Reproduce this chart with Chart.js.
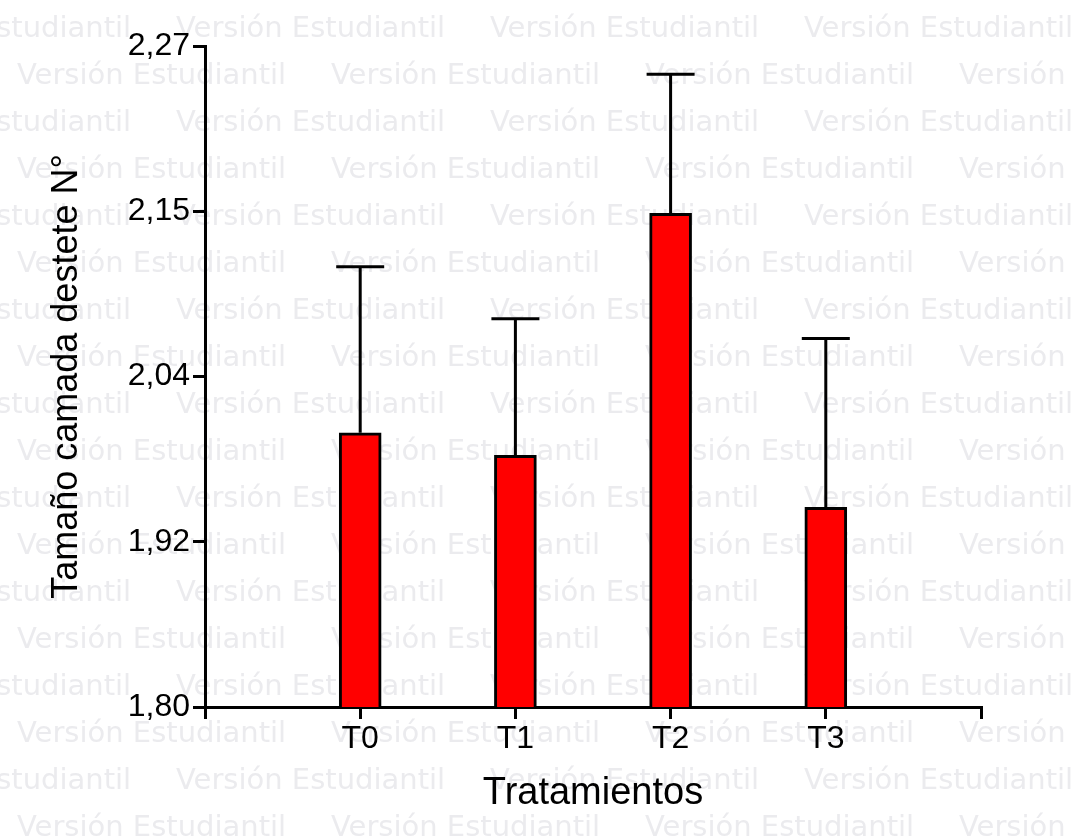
<!DOCTYPE html>
<html>
<head>
<meta charset="utf-8">
<title>Tamaño camada destete</title>
<script src="https://cdn.jsdelivr.net/npm/chart.js@4.4.1/dist/chart.umd.min.js"></script>
<style>
  html, body { margin: 0; padding: 0; background: #fff; }
  #wrap { width: 1073px; height: 840px; }
</style>
</head>
<body>
<div id="wrap"><canvas id="chart" width="1073" height="840"></canvas></div>
<script>
// ── data ──
const categories = ["T0", "T1", "T2", "T3"];
const means = [1.995, 1.979, 2.151, 1.942];
const errUp = [0.118, 0.097, 0.099, 0.120];
const yTickValues = [1.80, 1.9175, 2.035, 2.1525, 2.27];
const yTickLabels = ["1,80", "1,92", "2,04", "2,15", "2,27"];
const watermark = "Versión Estudiantil";

const FONT = "'Liberation Sans', Arial, sans-serif";

// empty slot at both ends of the x axis
const xLabels = ["", ...categories, ""];
const barData = [null, ...means, null];

// ── plugins ──
const background = {
  id: "background",
  beforeDraw(chart) {
    const ctx = chart.ctx;
    ctx.save();
    ctx.fillStyle = "#fff";
    ctx.fillRect(0, 0, chart.width, chart.height);
    ctx.font = "29px 'DejaVu Sans'";
    ctx.fillStyle = "#ebebee";
    for (let r = 0; r < 18; r++) {
      const yb = 37 + 47 * r;
      const x0 = r % 2 === 0 ? -138 : 17;
      for (let x = x0; x < chart.width; x += 314) ctx.fillText(watermark, x, yb);
    }
    ctx.restore();
  },
};

const errorBars = {
  id: "errorBars",
  afterDatasetsDraw(chart) {
    const { ctx, scales: { y } } = chart;
    const meta = chart.getDatasetMeta(0);
    ctx.save();
    ctx.strokeStyle = "#000";
    ctx.lineWidth = 3;
    means.forEach((m, i) => {
      const px = meta.data[i + 1].x;
      const base = y.getPixelForValue(m);
      const top = y.getPixelForValue(m + errUp[i]);
      ctx.beginPath();
      ctx.moveTo(px, base);
      ctx.lineTo(px, top);
      ctx.moveTo(px - 24, top);
      ctx.lineTo(px + 24, top);
      ctx.stroke();
    });
    ctx.restore();
  },
};

// ── chart ──
new Chart(document.getElementById("chart"), {
  type: "bar",
  data: {
    labels: xLabels,
    datasets: [
      {
        data: barData,
        backgroundColor: "#ff0000",
        borderColor: "#000",
        borderWidth: 3,
        borderSkipped: false,
        barThickness: 42,
      },
    ],
  },
  options: {
    responsive: false,
    animation: false,
    devicePixelRatio: 1,
    layout: { padding: { top: 46, right: 92, left: 0, bottom: 0 } },
    plugins: { legend: { display: false }, tooltip: { enabled: false } },
    scales: {
      x: {
        offset: false,
        grid: { offset: false, drawOnChartArea: false, tickLength: 12, color: "#000", lineWidth: 3 },
        border: { color: "#000", width: 3 },
        ticks: { color: "#000", font: { family: FONT, size: 32 }, padding: 1, autoSkip: false, maxRotation: 0 },
        title: {
          display: true,
          text: "Tratamientos",
          color: "#000",
          font: { family: FONT, size: 38 },
          padding: { top: 0, bottom: 24 },
        },
        afterFit: (s) => { s.height = 133; },
      },
      y: {
        min: 1.80,
        max: 2.27,
        afterBuildTicks: (s) => { s.ticks = yTickValues.map((v) => ({ value: v })); },
        grid: { drawOnChartArea: false, tickLength: 12, color: "#000", lineWidth: 3 },
        border: { color: "#000", width: 3 },
        ticks: {
          color: "#000",
          font: { family: FONT, size: 32 },
          padding: 3,
          callback: (v, i) => yTickLabels[i],
        },
        title: {
          display: true,
          text: "Tamaño camada destete N°",
          color: "#000",
          font: { family: FONT, size: 36 },
          padding: { top: 45, bottom: 0 },
        },
        afterFit: (s) => { s.width = 205; },
      },
    },
  },
  plugins: [background, errorBars],
});
</script>
</body>
</html>
